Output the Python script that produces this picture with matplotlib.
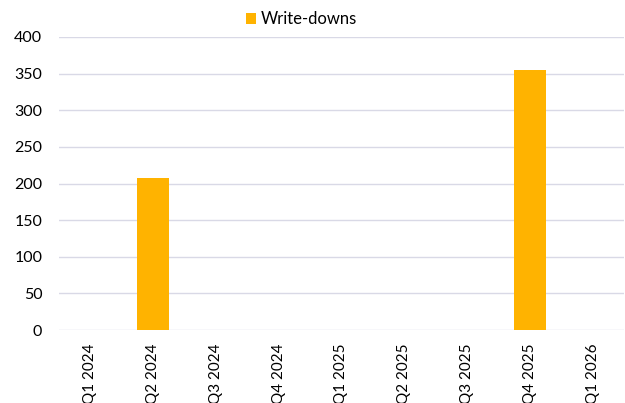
import matplotlib
matplotlib.use("Agg")
import matplotlib.pyplot as plt

categories = ["Q1 2024", "Q2 2024", "Q3 2024", "Q4 2024", "Q1 2025",
              "Q2 2025", "Q3 2025", "Q4 2025", "Q1 2026"]
write_downs = [0, 207, 0, 0, 0, 0, 0, 355, 0]
yticks = [0, 50, 100, 150, 200, 250, 300, 350, 400]

plt.rcParams['font.family'] = ['Lato', 'DejaVu Sans']

fig = plt.figure(figsize=(6.25, 4.03), dpi=100)
ax = fig.add_axes([59/625, 1 - 330/403, (624-59)/625, (330-37)/403])

x = list(range(len(categories)))
ax.bar(x, write_downs, width=0.5, color="#FFB300", label="Write-downs", zorder=3)

ax.set_ylim(0, 400)
ax.set_xlim(-0.5, len(categories) - 0.5)
ax.set_yticks(yticks)
ax.set_xticks(x)
ax.set_xticklabels(categories, rotation=90, fontsize=11)
ax.tick_params(axis='y', labelsize=11.5, length=0, pad=12)
ax.tick_params(axis='x', length=0, pad=10)
ax.grid(axis='y', color="#D9D9E6", linewidth=1, zorder=0)
for s in ax.spines.values():
    s.set_visible(False)

leg = fig.legend(loc='upper center', bbox_to_anchor=(0.482, 1.01), frameon=False,
                 fontsize=12, handlelength=0.65, handleheight=0.65, handletextpad=0.25)

fig.savefig("out.png", dpi=100)
